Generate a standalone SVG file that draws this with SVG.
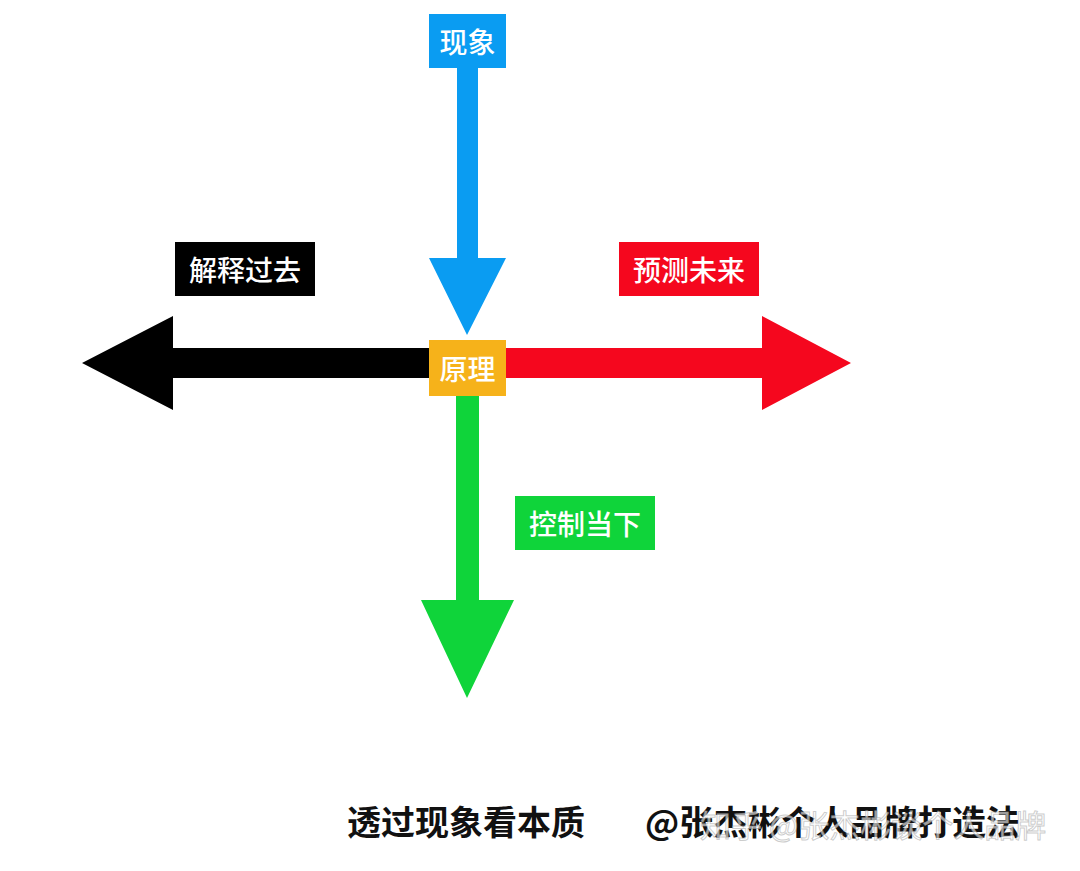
<svg xmlns="http://www.w3.org/2000/svg" width="1080" height="871" viewBox="0 0 1080 871">
<style>
.l{font-family:"Noto Sans CJK SC",sans-serif;font-size:28px;font-weight:500;fill:#fff;text-anchor:middle;dominant-baseline:central}
.b{font-family:"Noto Sans CJK SC",sans-serif;font-size:34px;font-weight:bold;fill:#111}
</style>
<rect width="1080" height="871" fill="#fff"/>
<g id="connectors">
<path d="M457 68H478V258H506L467 335L429 258H457Z" fill="#0a9cf2"/>
<path d="M430 348H173V316L82 363L173 410V378H430Z" fill="#000"/>
<path d="M506 348H762V316L851 363L762 410V378H506Z" fill="#f5071e"/>
<path d="M456 396H479V600H514L467 698L421 600H456Z" fill="#0fd43a"/>
</g>
<g id="xianxiang"><rect x="429" y="14" width="77" height="54" fill="#0a9cf2"/><text class="l" x="467.5" y="41">现象</text></g>
<g id="yuanli"><rect x="429" y="340" width="77" height="56" fill="#f6b21a"/><text class="l" x="467.5" y="368">原理</text></g>
<g id="jieshi"><rect x="175" y="242" width="140" height="54" fill="#000"/><text class="l" x="245" y="269">解释过去</text></g>
<g id="yuce"><rect x="619" y="242" width="140" height="54" fill="#f5071e"/><text class="l" x="689" y="269">预测未来</text></g>
<g id="kongzhi"><rect x="515" y="496" width="140" height="54" fill="#0fd43a"/><text class="l" x="585" y="523">控制当下</text></g>
<text class="b" x="347" y="835">透过现象看本质</text>
<text class="b" x="645" y="835" textLength="375">@张杰彬个人品牌打造法</text>
<text x="700" y="837" font-family="Noto Sans CJK SC,sans-serif" font-size="31" fill="#fff" fill-opacity="0.6" stroke="#999" stroke-opacity="0.5" stroke-width="1">知乎 @张杰彬谈个人品牌</text>
</svg>
